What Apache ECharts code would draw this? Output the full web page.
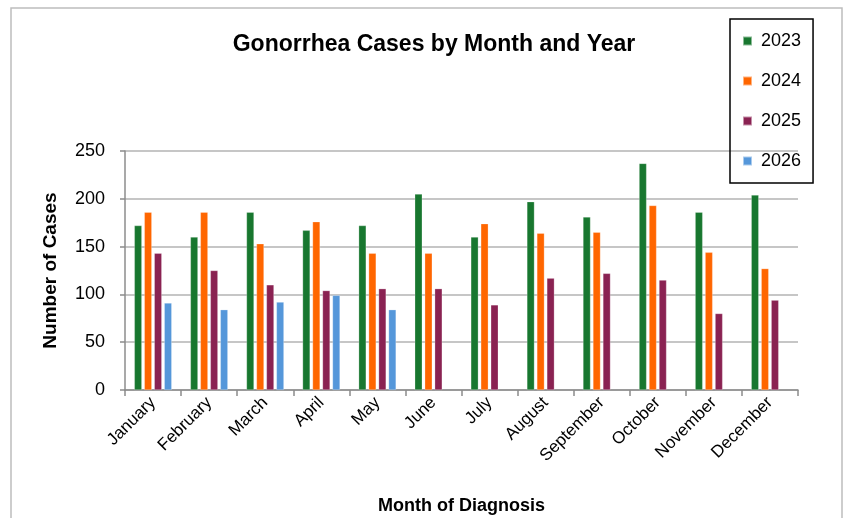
<!DOCTYPE html>
<html>
<head>
<meta charset="utf-8">
<script src="https://cdn.jsdelivr.net/npm/echarts@6/dist/echarts.min.js"></script>
<style>
  html, body {margin: 0; padding: 0; background: #fff;}
  #main {width: 846px; height: 518px;}
</style>
</head>
<body>
<div id="main"></div>
<script>
var months = ['January', 'February', 'March', 'April', 'May', 'June', 'July',
  'August', 'September', 'October', 'November', 'December']
var years = ['2023', '2024', '2025', '2026']
var cases2023 = [172, 160, 186, 167, 172, 205, 160, 197, 181, 237, 186, 204]
var cases2024 = [186, 186, 153, 176, 143, 143, 174, 164, 165, 193, 144, 127]
var cases2025 = [143, 125, 110, 104, 106, 106, 89, 117, 122, 115, 80, 94]
var cases2026 = [91, 84, 92, 99, 84, null, null, null, null, null, null, null]
var yTicks = [0, 50, 100, 150, 200, 250]

var colors = ['#18772F', '#FF6600', '#8A2252', '#5597DA']
var font = 'Liberation Sans, Arial, sans-serif'

var myChart = echarts.init(document.getElementById('main'))

function barSeries (name, data, idx) {
  return {
    name: name,
    type: 'bar',
    data: data,
    barWidth: 7.5,
    barGap: '33%',
    itemStyle: {color: colors[idx], borderColor: 'rgba(255,255,255,0.5)', borderWidth: 0.5}
  }
}

var option = {
  animation: false,
  textStyle: {fontFamily: font},
  // outer chart frame
  graphic: [{
    type: 'rect',
    shape: {x: 11, y: 8, width: 831, height: 530},
    style: {fill: 'none', stroke: '#BDBDBD', lineWidth: 1.5},
    silent: true
  }],
  title: {
    text: 'Gonorrhea Cases by Month and Year',
    left: 429,
    textAlign: 'center',
    top: 28,
    textStyle: {fontFamily: font, fontSize: 23, fontWeight: 'bold', color: '#000'}
  },
  legend: {
    data: years,
    orient: 'vertical',
    left: 730,
    top: 19,
    width: 85,
    padding: [13, 12, 13, 12],
    itemGap: 22,
    itemWidth: 9,
    itemHeight: 9,
    icon: 'rect',
    borderColor: '#000',
    borderWidth: 1.5,
    textStyle: {fontFamily: font, fontSize: 18, color: '#000', padding: [0, 0, 0, 4]}
  },
  grid: {left: 125, right: 48, top: 151, bottom: 128},
  xAxis: {
    type: 'category',
    data: months,
    name: 'Month of Diagnosis',
    nameLocation: 'middle',
    nameGap: 107,
    nameTextStyle: {fontFamily: font, fontSize: 18, fontWeight: 'bold', color: '#000'},
    axisLine: {lineStyle: {color: '#8C8C8C', width: 1.5}},
    axisTick: {show: true, length: 6, lineStyle: {color: '#8C8C8C', width: 1.5}},
    axisLabel: {rotate: 45, interval: 0, fontSize: 17, color: '#000', margin: 10}
  },
  yAxis: {
    type: 'value',
    min: yTicks[0],
    max: yTicks[yTicks.length - 1],
    interval: 50,
    name: 'Number of Cases',
    nameLocation: 'middle',
    nameGap: 65,
    nameTextStyle: {fontFamily: font, fontSize: 19, fontWeight: 'bold', color: '#000'},
    axisLine: {show: true, lineStyle: {color: '#8C8C8C', width: 1.5}},
    axisTick: {show: true, length: 5, lineStyle: {color: '#8C8C8C', width: 1.5}},
    axisLabel: {fontSize: 18, color: '#000', margin: 20},
    splitLine: {lineStyle: {color: '#B3B3B3', width: 1.5}}
  },
  series: [
    barSeries(years[0], cases2023, 0),
    barSeries(years[1], cases2024, 1),
    barSeries(years[2], cases2025, 2),
    barSeries(years[3], cases2026, 3)
  ]
}

myChart.setOption(option)
</script>
</body>
</html>
